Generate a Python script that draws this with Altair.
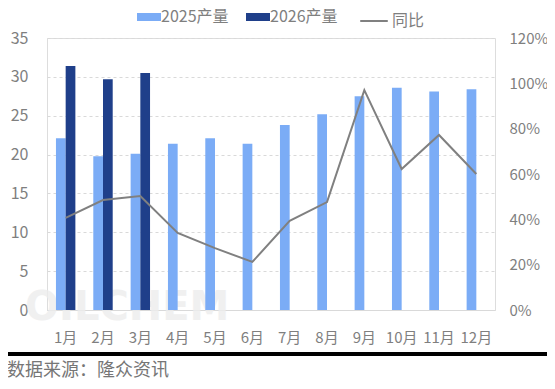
import altair as alt
import pandas as pd

months = ["1月", "2月", "3月", "4月", "5月", "6月", "7月", "8月", "9月", "10月", "11月", "12月"]
v2025 = [22.1, 19.8, 20.1, 21.4, 22.1, 21.4, 23.8, 25.2, 27.5, 28.6, 28.1, 28.4]
v2026 = [31.4, 29.7, 30.5]
yoy = [0.406, 0.485, 0.503, 0.340, 0.273, 0.212, 0.393, 0.476, 0.970, 0.622, 0.772, 0.600]
series = ["2025产量", "2026产量"]
colors = ["#7BACF6", "#1F3F8A"]
line_color = "#808080"
text_color = "#7F7F7F"
FONT = "Noto Sans CJK SC"

rows = []
for m, v in zip(months, v2025):
    rows.append({"month": m, "series": series[0], "value": v})
for m, v in zip(months, v2026):
    rows.append({"month": m, "series": series[1], "value": v})
bars_df = pd.DataFrame(rows)
line_df = pd.DataFrame({"month": months, "yoy": yoy, "name": ["同比"] * len(months)})

W, H = 448, 272

x_enc = alt.X("month:N", sort=months, title=None,
              scale=alt.Scale(paddingInner=0.48, paddingOuter=0.24),
              axis=alt.Axis(labelFont=FONT, labelFontSize=15, labelColor=text_color,
                            labelPadding=20, ticks=False, domainColor="#D9D9D9",
                            labelAngle=0))

bars = alt.Chart(bars_df).mark_bar().encode(
    x=x_enc,
    xOffset=alt.XOffset("series:N", scale=alt.Scale(domain=series, paddingInner=0)),
    y=alt.Y("value:Q", title=None,
            scale=alt.Scale(domain=[0, 35], nice=False),
            axis=alt.Axis(values=[0, 5, 10, 15, 20, 25, 30, 35], grid=True,
                          gridColor="#D9D9D9", gridDash=[3, 3], domain=False, ticks=False,
                          labelFont=FONT, labelFontSize=16, labelColor=text_color,
                          labelPadding=19)),
    color=alt.Color("series:N", scale=alt.Scale(domain=series, range=colors),
                    legend=alt.Legend(title=None, orient="none", legendX=94, legendY=-29,
                                      direction="horizontal", labelFont=FONT,
                                      labelFontSize=16, labelColor=text_color,
                                      symbolType="M-1.5,-0.5h3v1h-3z", symbolSize=256,
                                      symbolStrokeWidth=0, columnPadding=17,
                                      labelOffset=4)),
)

line = alt.Chart(line_df).mark_line(strokeWidth=2).encode(
    x=alt.X("month:N", sort=months),
    y=alt.Y("yoy:Q", title=None,
            scale=alt.Scale(domain=[0, 1.2], nice=False),
            axis=alt.Axis(orient="right", format="0%", values=[0, 0.2, 0.4, 0.6, 0.8, 1.0, 1.2],
                          grid=False, domain=False, ticks=False,
                          labelFont=FONT, labelFontSize=15, labelColor=text_color,
                          labelPadding=14)),
    stroke=alt.Stroke("name:N", scale=alt.Scale(domain=["同比"], range=[line_color]),
                      legend=alt.Legend(title=None, orient="none", legendX=312, legendY=-32,
                                        labelFont=FONT, labelFontSize=16, labelColor=text_color,
                                        symbolType="stroke", symbolSize=760,
                                        symbolStrokeWidth=2, labelOffset=3)),
)

watermark = alt.Chart(pd.DataFrame({"t": ["OILCHEM"]})).mark_text(
    font="DejaVu Sans", fontSize=40, fontWeight="bold", color="#EDEDED",
    align="left", baseline="middle", opacity=0.8
).encode(text="t:N", x=alt.value(-22), y=alt.value(H - 2))

footer_rule = alt.Chart(pd.DataFrame({"a": [1]})).mark_rule(
    color="black", strokeWidth=4, clip=False
).encode(x=alt.value(-40), x2=alt.value(501), y=alt.value(H + 44))

footer_text = alt.Chart(pd.DataFrame({"t": ["数据来源：隆众资讯"]})).mark_text(
    font=FONT, fontSize=18, color="#767676", align="left", baseline="middle"
).encode(text="t:N", x=alt.value(-40), y=alt.value(H + 61))

chart = alt.layer(watermark, bars, line, footer_rule, footer_text).resolve_scale(
    y="independent", color="independent"
).properties(
    width=W, height=H,
    padding={"left": 39, "top": 30, "right": 52, "bottom": 71},
    autosize=alt.AutoSizeParams(type="none"),
).configure_view(stroke=None).configure(background="white")

chart.save("out.html", embed_options={"renderer": "svg", "actions": False})
